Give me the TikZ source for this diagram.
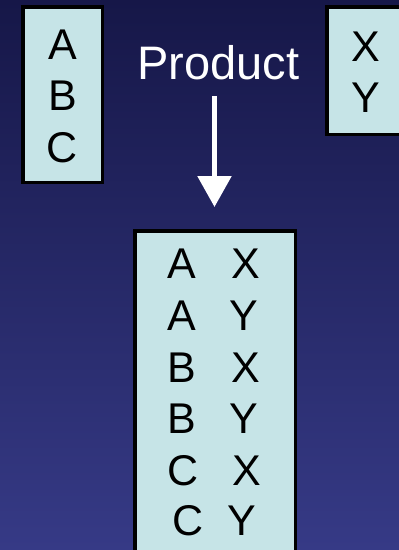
\documentclass[tikz,border=0pt]{standalone}
\usepackage{fontspec}
\setmainfont{Liberation Sans}
\usetikzlibrary{arrows.meta}
\definecolor{bgtop}{RGB}{22,23,72}
\definecolor{bgbot}{RGB}{54,58,134}
\definecolor{boxfill}{RGB}{198,228,231}
\tikzset{
  tbox/.style={draw=black, line width=3.5pt, fill=boxfill},
  let/.style={anchor=base, inner sep=0pt, font=\fontsize{43}{43}\selectfont, text=black},
  ttl/.style={anchor=base, inner sep=0pt, font=\fontsize{47}{47}\selectfont, text=white},
}
\begin{document}
\begin{tikzpicture}[x=1pt,y=-1pt]
\useasboundingbox (0,0) rectangle (399,550);
\shade[top color=bgtop, bottom color=bgbot] (0,0) rectangle (399,550);
% boxes
\draw[tbox] (22.75,6.75) rectangle (102.25,182.25);
\draw[tbox] (326.75,6.75) rectangle (404,134.25);
\draw[tbox] (134.75,230.75) rectangle (295.25,556);
% left box letters
\node[let] (a1) at (62.5,59.3) {A};
\node[let] (b1) at (62.5,110.5) {B};
\node[let] (c1) at (62.5,162) {C};
% right box letters
\node[let] (x1) at (366,61) {X};
\node[let] (y1) at (366,112) {Y};
% title
\node[ttl] (prod) at (218.5,79) {Product};
% result rows
\node[let] (r1a) at (182,278) {A};
\node[let] (r1b) at (246,278) {X};
\node[let] (r2a) at (182,330) {A};
\node[let] (r2b) at (244,330) {Y};
\node[let] (r3a) at (182,382) {B};
\node[let] (r3b) at (246,382) {X};
\node[let] (r4a) at (182,433) {B};
\node[let] (r4b) at (244,433) {Y};
\node[let] (r5a) at (183,485) {C};
\node[let] (r5b) at (247,485) {X};
\node[let] (r6a) at (188,535) {C};
\node[let] (r6b) at (242,535) {Y};
% arrow
\coordinate (as) at (214.5,96);
\coordinate (ae) at (214.5,207);
\draw[white, line width=5.5pt, -{Triangle[width=33pt,length=31pt]}] (as) -- (ae);
\end{tikzpicture}
\end{document}
